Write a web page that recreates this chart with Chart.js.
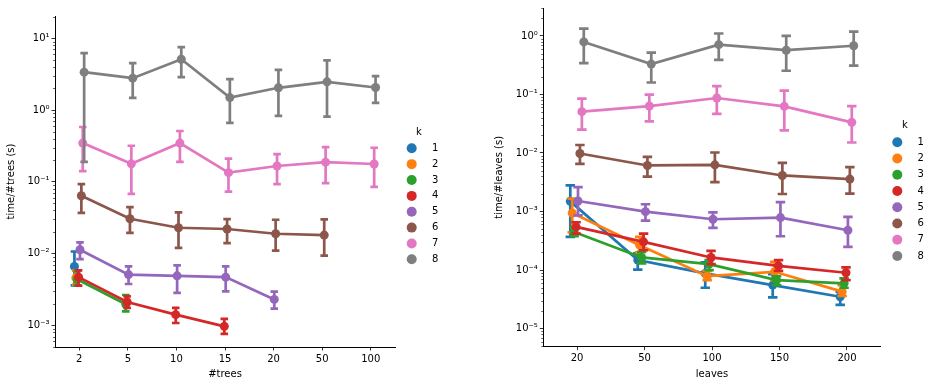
<!DOCTYPE html>
<html>
<head>
<meta charset="utf-8">
<script src="https://cdn.jsdelivr.net/npm/chart.js@4/dist/chart.umd.min.js"></script>
<style>
    body { margin: 0; background: #fff; }
    #wrap { position: relative; width: 931px; height: 385px; }
    #left { position: absolute; left: 0; top: 0; }
    #right { position: absolute; left: 465px; top: 0; }
</style>
</head>
<body>
<div id="wrap">
    <canvas id="left" width="465" height="385"></canvas>
    <canvas id="right" width="466" height="385"></canvas>
</div>
<script>
/**
 *  Data, one row per k
 */
var kLabels = ["1", "2", "3", "4", "5", "6", "7", "8"];
var kColors = ["#1f77b4", "#ff7f0e", "#2ca02c", "#d62728", "#9467bd", "#8c564b", "#e377c2", "#7f7f7f"];

var treesCats = ["2", "5", "10", "15", "20", "50", "100"];
var treesMean = [
    [0.0066, null, null, null, null, null, null],
    [0.0046, null, null, null, null, null, null],
    [0.0044, 0.00197, null, null, null, null, null],
    [0.0047, 0.00212, 0.00141, 0.00097, null, null, null],
    [0.0113, 0.0051, 0.0049, 0.0047, 0.0023, null, null],
    [0.064, 0.0306, 0.0229, 0.022, 0.0189, 0.0181, null],
    [0.346, 0.178, 0.346, 0.134, 0.166, 0.188, 0.177],
    [3.37, 2.78, 5.1, 1.49, 2.04, 2.47, 2.06]
];
var treesLow = [
    [0.0036, null, null, null, null, null, null],
    [0.0037, null, null, null, null, null, null],
    [0.0036, 0.00157, null, null, null, null, null],
    [0.00357, 0.00175, 0.00108, 0.00076, null, null, null],
    [0.0084, 0.00377, 0.00283, 0.00298, 0.00171, null, null],
    [0.037, 0.0194, 0.012, 0.014, 0.011, 0.0094, null],
    [0.141, 0.068, 0.19, 0.073, 0.093, 0.096, 0.085],
    [0.19, 1.48, 2.87, 0.66, 0.83, 0.81, 1.26]
];
var treesHigh = [
    [0.0107, null, null, null, null, null, null],
    [0.0058, null, null, null, null, null, null],
    [0.0057, 0.00265, null, null, null, null, null],
    [0.00583, 0.00254, 0.00175, 0.00123, null, null, null],
    [0.0143, 0.00664, 0.00686, 0.00664, 0.00295, null, null],
    [0.093, 0.0445, 0.0374, 0.0303, 0.0296, 0.0299, null],
    [0.58, 0.318, 0.51, 0.211, 0.243, 0.304, 0.298],
    [6.2, 4.5, 7.5, 2.69, 3.63, 4.9, 2.97]
];

var leavesCats = ["20", "50", "100", "150", "200"];
var leavesMean = [
    [0.00149, 0.000148, 0.0000875, 0.0000553, 0.000035],
    [0.000942, 0.000266, 0.0000787, 0.0000933, 0.0000427],
    [0.000448, 0.000164, 0.000126, 0.0000673, 0.0000592],
    [0.000545, 0.000303, 0.000164, 0.000118, 0.0000898],
    [0.00151, 0.000995, 0.000737, 0.000787, 0.000478],
    [0.0098, 0.00612, 0.00628, 0.00413, 0.00358],
    [0.0508, 0.0634, 0.0869, 0.0626, 0.0334],
    [0.79, 0.33, 0.71, 0.57, 0.68]
];
var leavesLow = [
    [0.000368, 0.000102, 0.0000498, 0.0000342, 0.0000253],
    [0.00044, 0.0002, 0.0000673, 0.0000673, 0.000036],
    [0.000378, 0.00013, 0.0001, 0.0000553, 0.0000498],
    [0.00042, 0.000218, 0.000126, 0.000097, 0.0000673],
    [0.00086, 0.0007, 0.000524, 0.000378, 0.000249],
    [0.00653, 0.00393, 0.00318, 0.00199, 0.00202],
    [0.0251, 0.0347, 0.0464, 0.0244, 0.0151],
    [0.343, 0.16, 0.39, 0.254, 0.31]
];
var leavesHigh = [
    [0.00279, 0.000193, 0.000135, 0.000085, 0.0000427],
    [0.00166, 0.00037, 0.000097, 0.000138, 0.0000553],
    [0.00054, 0.000204, 0.000148, 0.0000783, 0.0000718],
    [0.000655, 0.00042, 0.000212, 0.000148, 0.000111],
    [0.00261, 0.00133, 0.00097, 0.00145, 0.000807],
    [0.0137, 0.0086, 0.0102, 0.00679, 0.00573],
    [0.0846, 0.099, 0.139, 0.116, 0.0634],
    [1.33, 0.52, 1.1, 1.0, 1.18]
];

var FONT = "'DejaVu Sans', sans-serif";
var SUP = { "0": "\u2070", "1": "\u00b9", "2": "\u00b2", "3": "\u00b3", "4": "\u2074", "5": "\u2075", "-": "\u207b" };
var supLabel = function (v) {
    var e = String(Math.round(Math.log10(v)));
    return "10" + e.split("").map(function (c) { return SUP[c]; }).join("");
};

// vertical confidence bars with caps, drawn under each series' points
var errorBars = {
    id: "errorBars",
    beforeDatasetDraw: function (chart, args) {
        var ds = chart.data.datasets[args.index];
        var xs = chart.scales.x, ys = chart.scales.y;
        var half = (xs.getPixelForValue(1) - xs.getPixelForValue(0)) * 0.05;
        var ctx = chart.ctx;
        ctx.save();
        ctx.strokeStyle = ds.borderColor;
        ctx.lineWidth = 2.7;
        ctx.lineCap = "square";
        ds.data.forEach(function (p) {
            var x = xs.getPixelForValue(p.x);
            var lo = ys.getPixelForValue(p.lo), hi = ys.getPixelForValue(p.hi);
            ctx.beginPath();
            ctx.moveTo(x, lo); ctx.lineTo(x, hi);
            ctx.moveTo(x - half, lo); ctx.lineTo(x + half, lo);
            ctx.moveTo(x - half, hi); ctx.lineTo(x + half, hi);
            ctx.stroke();
        });
        ctx.restore();
    }
};

// minor log ticks on the y axis
var minorTicks = {
    id: "minorTicks",
    afterDraw: function (chart) {
        var ys = chart.scales.y, ctx = chart.ctx;
        var a = Math.floor(Math.log10(ys.min)), b = Math.ceil(Math.log10(ys.max));
        ctx.save();
        ctx.strokeStyle = "#000";
        ctx.lineWidth = 0.6;
        for (var n = a; n <= b; n++) {
            for (var m = 2; m <= 9; m++) {
                var v = m * Math.pow(10, n);
                if (v < ys.min || v > ys.max) continue;
                var y = Math.round(ys.getPixelForValue(v)) + 0.5;
                ctx.beginPath();
                ctx.moveTo(ys.right - 2, y); ctx.lineTo(ys.right, y);
                ctx.stroke();
            }
        }
        ctx.restore();
    }
};

// matplotlib style legend with a "k" title
var kLegend = {
    id: "kLegend",
    afterDraw: function (chart, args, o) {
        var ctx = chart.ctx;
        ctx.save();
        ctx.font = "10px " + FONT;
        ctx.textBaseline = "middle";
        ctx.fillStyle = "#000";
        ctx.textAlign = "center";
        ctx.fillText("k", o.titleX, o.titleY);
        ctx.textAlign = "left";
        chart.data.datasets.forEach(function (ds, i) {
            var y = o.y + i * o.step;
            ctx.fillStyle = ds.backgroundColor;
            ctx.beginPath();
            ctx.arc(o.markX, y, 5, 0, Math.PI * 2);
            ctx.fill();
            ctx.fillStyle = "#000";
            ctx.fillText(ds.label, o.textX, y);
        });
        ctx.restore();
    }
};

var makeChart = function (id, cats, mean, low, high, yTitle, xTitle, lay) {
    var nHue = kLabels.length;
    var datasets = kLabels.map(function (k, i) {
        var off = (i / (nHue - 1) - 0.5) * 0.2; // seaborn dodge
        var pts = [];
        cats.forEach(function (c, j) {
            if (mean[i][j] === null) return;
            pts.push({ x: j + off, y: mean[i][j], lo: low[i][j], hi: high[i][j] });
        });
        return {
            label: k,
            data: pts,
            borderColor: kColors[i],
            backgroundColor: kColors[i],
            borderWidth: 2.7,
            pointRadius: 4.5,
            pointBorderWidth: 0,
            pointHoverRadius: 4.5,
            tension: 0,
            clip: false,
            order: nHue - i
        };
    });

    return new Chart(document.getElementById(id), {
        type: "line",
        data: { datasets: datasets },
        plugins: [errorBars, minorTicks, kLegend],
        options: {
            responsive: false,
            animation: false,
            events: [],
            layout: { autoPadding: false, padding: lay.padding },
            plugins: {
                legend: { display: false },
                tooltip: { enabled: false },
                kLegend: lay.legend
            },
            scales: {
                x: {
                    type: "linear",
                    min: -0.5,
                    max: cats.length - 0.5,
                    afterBuildTicks: function (s) {
                        s.ticks = cats.map(function (c, j) { return { value: j }; });
                    },
                    afterFit: function (s) { s.height = lay.xHeight; },
                    ticks: {
                        callback: function (v) { return cats[v]; },
                        font: { family: FONT, size: 10 },
                        color: "#000",
                        padding: 2.5,
                        maxRotation: 0
                    },
                    grid: { drawOnChartArea: false, tickLength: 3.5, tickColor: "#000", tickWidth: 0.8 },
                    border: { color: "#000", width: 1 },
                    title: { display: true, text: xTitle, font: { family: FONT, size: 10 }, color: "#000", padding: { bottom: 4.5 } }
                },
                y: {
                    type: "logarithmic",
                    min: lay.yMin,
                    max: lay.yMax,
                    afterBuildTicks: function (s) {
                        var t = [];
                        for (var n = Math.ceil(Math.log10(s.min)); n <= Math.floor(Math.log10(s.max)); n++) {
                            t.push({ value: Math.pow(10, n) });
                        }
                        s.ticks = t;
                    },
                    afterFit: function (s) { s.width = lay.yWidth; },
                    ticks: {
                        callback: function (v) { return supLabel(v); },
                        font: { family: FONT, size: 10 },
                        color: "#000",
                        padding: 2
                    },
                    grid: { drawOnChartArea: false, tickLength: 3.5, tickColor: "#000", tickWidth: 0.8 },
                    border: { color: "#000", width: 1 },
                    title: { display: true, text: yTitle, font: { family: FONT, size: 10 }, color: "#000", padding: { top: lay.yTitlePad } }
                }
            }
        }
    });
};

makeChart("left", treesCats, treesMean, treesLow, treesHigh, "time/#trees (s)", "#trees", {
    padding: { left: 0, top: 16, right: 70, bottom: 0 },
    xHeight: 38,
    yWidth: 55,
    yMin: 0.0005,
    yMax: 20.4,
    yTitlePad: 5.5,
    legend: { titleX: 419, titleY: 132.5, markX: 411.7, textX: 432, y: 148.3, step: 15.86 }
});

makeChart("right", leavesCats, leavesMean, leavesLow, leavesHigh, "time/#leaves (s)", "leaves", {
    padding: { left: 0, top: 7, right: 50.3, bottom: 0 },
    xHeight: 38.3,
    yWidth: 78.3,
    yMin: 0.0000049,
    yMax: 3.0,
    yTitlePad: 28,
    legend: { titleX: 440, titleY: 125, markX: 432.3, textX: 452.5, y: 142.3, step: 16.24 }
});
</script>
</body>
</html>
